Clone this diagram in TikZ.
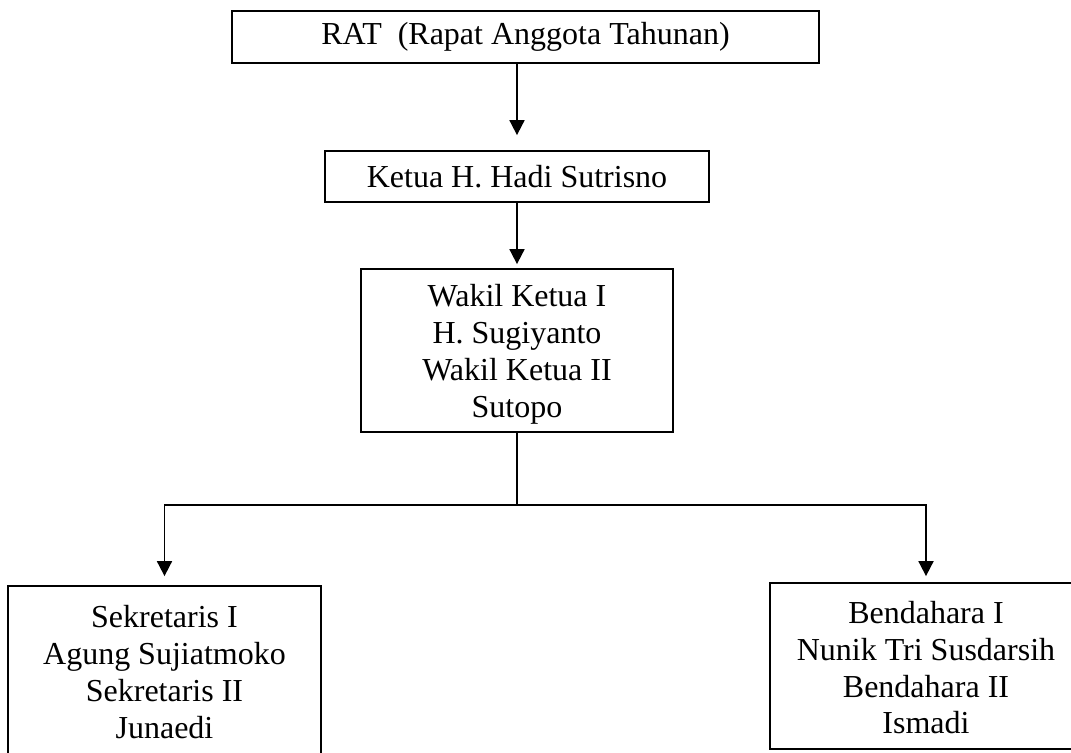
\documentclass[tikz,border=0pt]{standalone}
\usepackage{fontspec}
\setmainfont{Liberation Serif}
\usetikzlibrary{arrows.meta}

\begin{document}
\begin{tikzpicture}[x=0.5pt,y=-0.5pt,
  box/.style={draw,line width=0.9pt,inner sep=0pt,align=center,font=\fontsize{16}{18.4}\selectfont},
  arr/.style={line width=0.9pt,-{Triangle[length=7.5pt,width=7.5pt]}}]
\clip (0,0) rectangle (1071,752);
\node[box,minimum width=293.5pt,minimum height=26pt] (rat) at (525.5,37) {RAT\ \ (Rapat Anggota Tahunan)};
\node[box,minimum width=192pt,minimum height=25.5pt] (ketua) at (517,176.5) {Ketua H. Hadi Sutrisno};
\node[box,minimum width=156pt,minimum height=81.5pt,text height=70pt] (wakil) at (517,350.5) {Wakil Ketua I\\H. Sugiyanto\\Wakil Ketua II\\Sutopo};
\node[box,minimum width=156.5pt,minimum height=86pt] (sekretaris) at (164.5,672) {Sekretaris I\\Agung Sujiatmoko\\Sekretaris II\\Junaedi};
\node[box,minimum width=156pt,minimum height=83pt,text height=68pt] (bendahara) at (926,666) {Bendahara I\\Nunik Tri Susdarsih\\Bendahara II\\Ismadi};
\coordinate (cabang) at (517,505);
\draw[arr,shorten >=7.5pt] (ketua.north |- rat.south) -- (ketua.north);
\draw[arr,shorten >=2pt] (ketua) -- (wakil);
\draw[line width=0.9pt] (wakil) -- (cabang);
\draw[arr,shorten >=4.5pt] (cabang) -| (sekretaris);
\draw[arr,shorten >=3pt] (cabang) -| (bendahara);
\end{tikzpicture}
\end{document}
